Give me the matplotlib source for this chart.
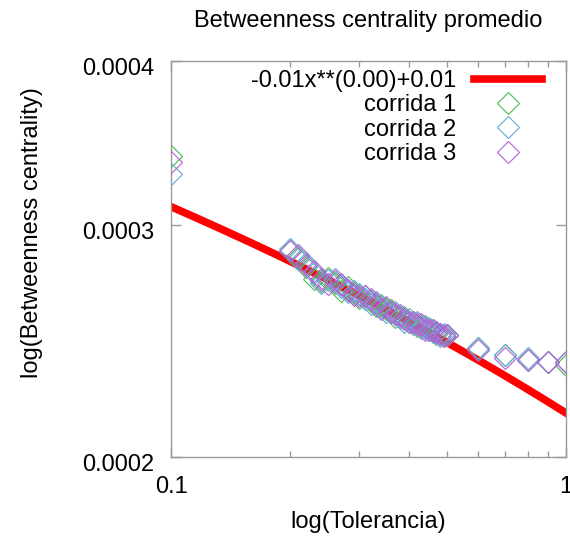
import numpy as np
import matplotlib.pyplot as plt
import matplotlib.transforms as mtransforms
from matplotlib.ticker import FixedLocator, NullFormatter

plt.rcParams['font.family'] = ['Liberation Sans', 'DejaVu Sans']

# tolerancia
tol_bajo = [0.1]
tol_medio = [0.20, 0.21, 0.22, 0.23, 0.24, 0.25, 0.26, 0.27, 0.28, 0.29, 0.30,
             0.31, 0.32, 0.33, 0.34, 0.35, 0.36, 0.37, 0.38, 0.39, 0.40,
             0.41, 0.42, 0.43, 0.44, 0.45, 0.46, 0.47, 0.48, 0.49, 0.50]
tol_alto = [0.6, 0.7, 0.8, 0.9, 1.0]

# betweenness promedio (x 1e-4)
corrida1 = [3.39,
            2.868, 2.838, 2.789, 2.731, 2.723, 2.737, 2.711, 2.675, 2.691, 2.666, 2.642,
            2.649, 2.626, 2.604, 2.611, 2.590, 2.588, 2.557, 2.556, 2.555, 2.535,
            2.535, 2.515, 2.515, 2.516, 2.497, 2.498, 2.479, 2.481, 2.472, 2.474,
            2.42, 2.39, 2.37, 2.36, 2.35]
corrida2 = [3.28,
            2.878, 2.828, 2.809, 2.761, 2.713, 2.727, 2.731, 2.695, 2.671, 2.676, 2.662,
            2.639, 2.616, 2.624, 2.601, 2.580, 2.578, 2.577, 2.556, 2.535, 2.545,
            2.525, 2.535, 2.505, 2.506, 2.507, 2.488, 2.489, 2.471, 2.482, 2.474,
            2.42, 2.39, 2.38, 2.36, 2.36]
corrida3 = [3.35,
            2.868, 2.848, 2.799, 2.771, 2.733, 2.707, 2.721, 2.705, 2.681, 2.656, 2.652,
            2.649, 2.636, 2.614, 2.591, 2.600, 2.578, 2.567, 2.566, 2.545, 2.535,
            2.535, 2.525, 2.525, 2.496, 2.497, 2.498, 2.489, 2.481, 2.472, 2.474,
            2.41, 2.38, 2.37, 2.36, 2.36]

# parametros del ajuste a*x**b + c
fit_a = -0.01
fit_b = 0.0041
fit_c = 0.010216

y_ticks = [0.0002, 0.0003, 0.0004]
y_tick_labels = ['0.0002', '0.0003', '0.0004']
x_ticks = [0.1, 1]
x_tick_labels = ['0.1', '1']

tol = np.array(tol_bajo + tol_medio + tol_alto)
fs = 17

fig = plt.figure(figsize=(5.70, 5.37), dpi=100)
ax = fig.add_axes([171 / 570, 80 / 537, 395 / 570, 396 / 537])

xs = np.linspace(0.1, 1.0, 200)
ax.plot(xs, fit_a * xs ** fit_b + fit_c, color='#ff0000', lw=5.5,
        label='-0.01x**(0.00)+0.01', zorder=2)

colores = ['#4cbc52', '#62aad8', '#b260d8']
for serie, color, nombre in zip([corrida1, corrida2, corrida3], colores,
                                ['corrida 1', 'corrida 2', 'corrida 3']):
    ax.plot(tol, np.array(serie) * 1e-4, ls='none', marker='D', ms=11,
            mfc='none', mec=color, mew=0.8, label=nombre, zorder=3)

ax.set_xscale('log')
ax.set_yscale('log')
ax.set_xlim(0.1, 1)
ax.set_ylim(0.0002, 0.0004)

ax.xaxis.set_major_locator(FixedLocator(x_ticks))
ax.set_xticklabels(x_tick_labels)
ax.xaxis.set_minor_locator(FixedLocator([0.2, 0.3, 0.4, 0.5, 0.6, 0.7, 0.8, 0.9]))
ax.xaxis.set_minor_formatter(NullFormatter())
ax.yaxis.set_major_locator(FixedLocator(y_ticks))
ax.set_yticklabels(y_tick_labels)
ax.yaxis.set_minor_locator(FixedLocator([]))

ax.tick_params(which='both', direction='in', top=True, right=True,
               colors='#999999', labelcolor='black', labelsize=fs)
ax.tick_params(which='major', length=7, width=1)
ax.tick_params(which='minor', length=4, width=1)
ax.tick_params(axis='y', pad=12)
ax.tick_params(axis='x', pad=14)
for s in ax.spines.values():
    s.set_color('#999999')
    s.set_linewidth(1)

# etiquetas del eje y un poco mas abajo, como en gnuplot
despl = mtransforms.ScaledTranslation(0, -4 / 72, fig.dpi_scale_trans)
for lbl in ax.get_yticklabels():
    lbl.set_transform(lbl.get_transform() + despl)

fig.text(368 / 570, 1 - 21 / 537, 'Betweenness centrality promedio',
         ha='center', va='center', fontsize=fs)
fig.text(368 / 570, 1 - 522 / 537, 'log(Tolerancia)',
         ha='center', va='center', fontsize=fs)
fig.text(32 / 570, 1 - 233 / 537, 'log(Betweenness centrality)',
         ha='center', va='center', rotation=90, fontsize=fs)

ax.legend(loc='upper right', bbox_to_anchor=(1 - 24 / 395, 1 - 9 / 396),
          frameon=False, markerfirst=False, fontsize=fs,
          handlelength=2.9, handletextpad=0.75, labelspacing=0.1,
          borderaxespad=0, borderpad=0)

fig.savefig('out.png', dpi=100)
